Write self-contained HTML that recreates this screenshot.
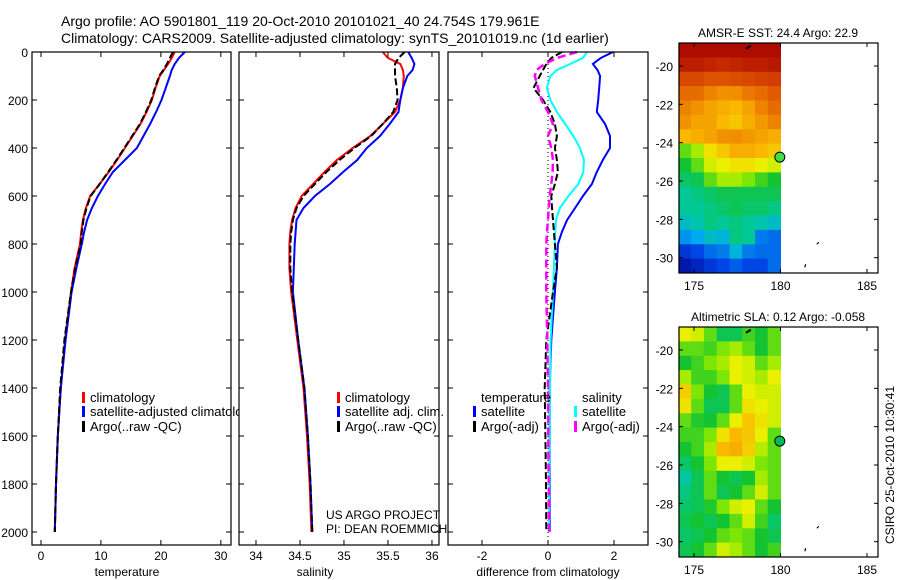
<!DOCTYPE html>
<html><head><meta charset="utf-8"><style>
html,body{margin:0;padding:0;background:#fff;}
svg{display:block;font-family:"Liberation Sans",sans-serif;}
</style></head><body>
<svg id="fig" width="900" height="580" viewBox="0 0 900 580" xmlns="http://www.w3.org/2000/svg">
<text x="61" y="26" font-size="14">Argo profile: AO 5901801_119 20-Oct-2010 20101021_40 24.754S 179.961E</text>
<text x="61" y="43" font-size="14">Climatology: CARS2009. Satellite-adjusted climatology: synTS_20101019.nc (1d earlier)</text>
<g id="layer"></g>
</svg>
<script>
// ---------- data ----------
const depths = [0,25,50,75,100,150,200,250,300,350,400,450,500,550,600,650,700,750,800,900,1000,1200,1400,1600,1800,2000];
const tempClim = [22.3,21.8,21.2,20.5,19.8,19.1,18.5,17.6,16.6,15.3,14.0,12.7,11.3,9.8,8.2,7.5,7.0,6.7,6.5,5.6,5.0,4.0,3.3,2.8,2.5,2.3];
const tempSat  = [24.0,23.0,22.3,21.8,21.5,20.8,20.1,19.2,18.2,17.1,16.0,14.0,12.0,10.7,9.5,8.5,7.7,7.2,6.8,5.9,5.1,4.1,3.3,2.8,2.5,2.3];
const tempArgo = [22.0,21.5,21.0,20.4,19.7,19.0,18.4,17.5,16.5,15.2,13.9,12.6,11.2,9.8,8.3,7.6,7.1,6.8,6.6,5.7,5.0,3.9,3.2,2.8,2.5,2.3];
const salClim = [35.44,35.50,35.64,35.67,35.68,35.67,35.64,35.58,35.44,35.30,35.10,34.92,34.78,34.65,34.52,34.45,34.41,34.39,34.38,34.38,34.40,34.47,34.54,34.58,34.61,34.63];
const salSat  = [35.73,35.77,35.80,35.78,35.72,35.67,35.64,35.62,35.52,35.41,35.26,35.15,34.99,34.84,34.67,34.54,34.46,34.45,34.44,34.43,34.42,34.48,34.55,34.59,34.62,34.64];
const salArgo = [35.69,35.62,35.58,35.58,35.58,35.60,35.61,35.56,35.44,35.31,35.12,34.95,34.80,34.67,34.54,34.46,34.42,34.40,34.39,34.39,34.41,34.48,34.55,34.59,34.62,34.64];
const dTempSat  = [1.97,1.60,1.36,1.50,1.58,1.55,1.52,1.48,1.73,1.88,1.88,1.66,1.48,1.33,1.06,0.82,0.58,0.42,0.30,0.27,0.21,0.10,0.05,0.05,0.05,0.05];
const dSalSat   = [1.18,1.06,0.67,0.27,0.07,-0.03,0.07,0.27,0.52,0.77,0.97,1.09,1.07,0.92,0.62,0.36,0.24,0.22,0.21,0.18,0.15,0.08,0.06,0.05,0.04,0.03];
const dTempArgo = [0.42,0.10,-0.05,-0.15,-0.25,-0.44,-0.15,0.07,0.21,0.27,0.21,0.27,0.30,0.21,0.10,0.12,0.15,0.18,0.21,0.27,0.15,-0.05,-0.10,-0.08,-0.06,-0.05];
const dSalArgo  = [0.88,0.27,-0.10,-0.35,-0.40,-0.30,-0.20,0.00,0.15,0.00,0.10,0.15,0.14,0.10,0.05,0.02,0.00,-0.03,-0.05,-0.05,-0.05,-0.02,0.00,0.01,0.02,0.03];
const depthTicks = [0,200,400,600,800,1000,1200,1400,1600,1800,2000];
const tempTicks = [0,10,20,30];
const salTicks = [34,34.5,35,35.5,36];
const diffTicks = [-2,0,2];
const latTicks = [-20,-22,-24,-26,-28,-30];
const lonTicks = [175,180,185];
// map grids (colour index 0..1), rows north->south, cols west->east
const sstGrid = [
[0.98,0.98,0.98,0.98,0.98,0.98,0.98,0.98],
[0.95,0.95,0.94,0.93,0.94,0.95,0.95,0.96],
[0.88,0.88,0.86,0.86,0.87,0.88,0.89,0.90],
[0.82,0.82,0.78,0.75,0.76,0.80,0.82,0.85],
[0.78,0.75,0.72,0.70,0.68,0.72,0.78,0.82],
[0.75,0.72,0.72,0.68,0.66,0.70,0.74,0.78],
[0.68,0.70,0.72,0.75,0.76,0.74,0.72,0.70],
[0.50,0.55,0.62,0.66,0.70,0.70,0.68,0.66],
[0.45,0.50,0.58,0.60,0.62,0.62,0.60,0.58],
[0.40,0.42,0.50,0.55,0.55,0.52,0.48,0.45],
[0.36,0.38,0.40,0.42,0.42,0.42,0.42,0.42],
[0.36,0.36,0.38,0.40,0.42,0.40,0.40,0.38],
[0.32,0.34,0.38,0.36,0.38,0.36,0.34,0.32],
[0.25,0.28,0.32,0.30,0.38,0.36,0.22,0.20],
[0.12,0.15,0.20,0.22,0.30,0.22,0.20,0.20],
[0.05,0.08,0.12,0.15,0.18,0.15,0.15,0.20]];
const slaGrid = [
[0.60,0.58,0.50,0.42,0.42,0.48,0.45,0.50],
[0.50,0.50,0.48,0.52,0.55,0.50,0.45,0.50],
[0.45,0.48,0.52,0.55,0.60,0.58,0.50,0.55],
[0.55,0.48,0.48,0.52,0.60,0.58,0.55,0.60],
[0.65,0.52,0.45,0.42,0.50,0.60,0.58,0.58],
[0.62,0.50,0.42,0.42,0.50,0.62,0.60,0.58],
[0.50,0.46,0.45,0.50,0.60,0.66,0.62,0.58],
[0.48,0.48,0.52,0.62,0.68,0.66,0.60,0.50],
[0.45,0.48,0.55,0.68,0.70,0.65,0.56,0.50],
[0.40,0.45,0.52,0.60,0.60,0.58,0.52,0.50],
[0.35,0.42,0.50,0.45,0.42,0.45,0.55,0.50],
[0.38,0.42,0.50,0.42,0.45,0.50,0.58,0.50],
[0.40,0.42,0.46,0.52,0.58,0.60,0.50,0.45],
[0.42,0.45,0.42,0.45,0.50,0.58,0.48,0.40],
[0.40,0.42,0.45,0.50,0.52,0.50,0.45,0.42],
[0.42,0.45,0.50,0.58,0.55,0.50,0.45,0.48]];

// ---------- helpers ----------
const NS='http://www.w3.org/2000/svg';
const layer=document.getElementById('layer');
function mk(tag,attrs,parent){const e=document.createElementNS(NS,tag);for(const k in attrs)e.setAttribute(k,attrs[k]);(parent||layer).appendChild(e);return e;}
const yTop=52, yPer=0.24, boxBottom=545;
const yD=d=>yTop+d*yPer;
const cmapStops=[[0,[0,0,140]],[0.15,[0,70,230]],[0.28,[0,170,240]],[0.35,[0,200,160]],[0.45,[20,195,50]],[0.53,[140,235,0]],[0.6,[235,240,0]],[0.68,[250,185,0]],[0.8,[235,120,0]],[0.9,[210,60,0]],[1,[165,0,0]]];
function cmap(v){v=Math.max(0,Math.min(1,v));
 for(let i=1;i<cmapStops.length;i++){const [a,ca]=cmapStops[i-1],[b,cb]=cmapStops[i];
  if(v<=b){const t=(v-a)/(b-a);return `rgb(${ca.map((c,k)=>Math.round(c+(cb[k]-c)*t)).join(',')})`;}}
 return 'rgb(165,0,0)';}

const panels=[
 {name:'temperature',x0:32,x1:231,v0:-1.5,v1:31.7,ticks:tempTicks,label:'temperature',lx:127},
 {name:'salinity',x0:239,x1:439,v0:33.807,v1:36.08,ticks:salTicks,label:'salinity',lx:315},
 {name:'difference',x0:448,x1:648,v0:-3.03,v1:3.03,ticks:diffTicks,label:'difference from climatology',lx:548}];
panels.forEach(p=>{p.sx=v=>p.x0+(v-p.v0)/(p.v1-p.v0)*(p.x1-p.x0);});

function drawLine(p,vals,color,name,dash,w){
 const pts=vals.map((v,i)=>p.sx(v).toFixed(1)+','+yD(depths[i]).toFixed(1)).join(' ');
 const a={points:pts,fill:'none',stroke:color,'stroke-width':w||2};
 if(dash)a['stroke-dasharray']=dash;
 const e=mk('polyline',a);
 
 
}
function legendEntry(x,y,color,text,name){
 if(color){const b=mk('rect',{x:x,y:y-10,width:3,height:11,fill:color});
  
  }
 const t=mk('text',{x:x+8,y:y,'font-size':13});t.textContent=text;
 
 
}

panels.forEach((p,pi)=>{
 const bg=mk('rect',{x:p.x0,y:yTop,width:p.x1-p.x0,height:boxBottom-yTop,fill:'#fff'});
 
 
 if(p.name==='temperature'){
  drawLine(p,tempClim,'#f00','temp-climatology-line');
  drawLine(p,tempSat,'#00f','temp-satellite-line');
  drawLine(p,tempArgo,'#000','temp-argo-line','7,3');
  legendEntry(82,402,'#f00','climatology','legend-climatology');
  legendEntry(82,416,'#00f','satellite-adjusted climatology','legend-satellite-adjusted');
  legendEntry(82,431,'#000','Argo(..raw -QC)','legend-argo');
 } else if(p.name==='salinity'){
  drawLine(p,salClim,'#f00','sal-climatology-line');
  drawLine(p,salSat,'#00f','sal-satellite-line');
  drawLine(p,salArgo,'#000','sal-argo-line','7,3');
  legendEntry(337,402,'#f00','climatology','legend-sal-climatology');
  legendEntry(337,416,'#00f','satellite adj. clim.','legend-sal-satellite');
  legendEntry(337,431,'#000','Argo(..raw -QC)','legend-sal-argo');
  const t1=mk('text',{x:326,y:519,'font-size':12});t1.textContent='US ARGO PROJECT';
  
  
  const t2=mk('text',{x:326,y:533,'font-size':12});t2.textContent='PI: DEAN ROEMMICH';
  
  
 } else {
  const z=mk('line',{x1:p.sx(0),x2:p.sx(0),y1:yTop,y2:boxBottom,stroke:'#000','stroke-width':1,'stroke-dasharray':'1,3'});
  
  
  drawLine(p,dTempSat,'#00f','diff-temp-satellite-line');
  drawLine(p,dSalSat,'#0ff','diff-sal-satellite-line');
  drawLine(p,dTempArgo,'#000','diff-temp-argo-line','7,3');
  drawLine(p,dSalArgo,'#f0f','diff-sal-argo-line','8,4',2.5);
  legendEntry(473,402,null,'temperature','legend-temperature-heading');
  legendEntry(473,416,'#00f','satellite','legend-diff-temp-satellite');
  legendEntry(473,431,'#000','Argo(-adj)','legend-diff-temp-argo');
  legendEntry(574,402,null,'salinity','legend-salinity-heading');
  legendEntry(574,416,'#0ff','satellite','legend-diff-sal-satellite');
  legendEntry(574,431,'#f0f','Argo(-adj)','legend-diff-sal-argo');
 }
 const box=mk('rect',{x:p.x0,y:yTop,width:p.x1-p.x0,height:boxBottom-yTop,fill:'none',stroke:'#000','stroke-width':1.2});
 
 
 p.ticks.forEach(v=>{
  const x=p.sx(v);
  mk('line',{x1:x,x2:x,y1:boxBottom,y2:boxBottom-5,stroke:'#000'});
  mk('line',{x1:x,x2:x,y1:yTop,y2:yTop+5,stroke:'#000'});
  const t=mk('text',{x:x,y:560,'font-size':12,'text-anchor':'middle'});t.textContent=String(v);
  
  
 });
 depthTicks.forEach(d=>{
  const y=yD(d);
  mk('line',{x1:p.x0,x2:p.x0+5,y1:y,y2:y,stroke:'#000'});
  mk('line',{x1:p.x1,x2:p.x1-5,y1:y,y2:y,stroke:'#000'});
  if(pi===0){const t=mk('text',{x:28,y:y+5,'font-size':12,'text-anchor':'end'});t.textContent=String(d);
   
   }
 });
 const xl=mk('text',{x:p.lx,y:576,'font-size':12,'text-anchor':'middle'});xl.textContent=p.label;
 
 
});

// ---------- maps ----------
function drawMap(grid,top,title,name,markerColor){
 const x0=679,x1=878,bottom=top+230;
 const lonS=lo=>694+(lo-175)*17.3;
 const lat0=-18.8,lat1=-30.8;
 const latS=la=>top+(la-lat0)/(lat1-lat0)*(bottom-top);
 const g=mk('g',{});
 
 
 const nr=grid.length,nc=grid[0].length;
 const lonA=174.1,lonB=180,latStep=(lat0-lat1)/nr,lonStep=(lonB-lonA)/nc;
 grid.forEach((row,r)=>row.forEach((v,c)=>{
  const xa=lonS(lonA+c*lonStep),xb=lonS(lonA+(c+1)*lonStep);
  const ya=latS(lat0-r*latStep),yb=latS(lat0-(r+1)*latStep);
  const cell=mk('rect',{x:xa.toFixed(1),y:ya.toFixed(1),width:(xb-xa+0.5).toFixed(1),height:(yb-ya+0.5).toFixed(1),fill:cmap(v)},g);
  
  
 }));
 mk('rect',{x:x0,y:top,width:x1-x0,height:bottom-top,fill:'none',stroke:'#000','stroke-width':1.2},g);
 latTicks.forEach(la=>{const y=latS(la);
  mk('line',{x1:x0,x2:x0+4,y1:y,y2:y,stroke:'#000'},g);
  mk('line',{x1:x1,x2:x1-4,y1:y,y2:y,stroke:'#000'},g);
  const t=mk('text',{x:673,y:y+5,'font-size':12,'text-anchor':'end'},g);t.textContent=String(la);
  
  });
 lonTicks.forEach(lo=>{const x=lonS(lo);
  mk('line',{x1:x,x2:x,y1:bottom,y2:bottom-4,stroke:'#000'},g);
  mk('line',{x1:x,x2:x,y1:top,y2:top+4,stroke:'#000'},g);
  const t=mk('text',{x:x,y:bottom+17,'font-size':12,'text-anchor':'middle'},g);t.textContent=String(lo);
  
  });
 mk('path',{d:`M${lonS(182.1)} ${latS(-29.3)} l2 -2 M${lonS(181.4)} ${latS(-30.5)} l1 -3`,stroke:'#000',fill:'none','stroke-width':1.2},g);
 mk('path',{d:`M${lonS(178)} ${latS(-19.1)} l5 -3`,stroke:'#000',fill:'none','stroke-width':2},g);
 const m=mk('circle',{cx:lonS(179.96),cy:latS(-24.754),r:5,fill:markerColor,stroke:'#000','stroke-width':1},g);
 
 
 const t=mk('text',{x:778,y:top-6,'font-size':12,'text-anchor':'middle'},g);t.textContent=title;
 
 
}
drawMap(sstGrid,43,'AMSR-E SST: 24.4 Argo: 22.9','sst-map','#4d4');
drawMap(slaGrid,327,'Altimetric SLA: 0.12 Argo: -0.058','sla-map','#0b5');
const ts=mk('text',{x:0,y:0,'font-size':12,'text-anchor':'middle',transform:'translate(894,465) rotate(-90)'});
ts.textContent='CSIRO 25-Oct-2010 10:30:41';


</script>
</body></html>
